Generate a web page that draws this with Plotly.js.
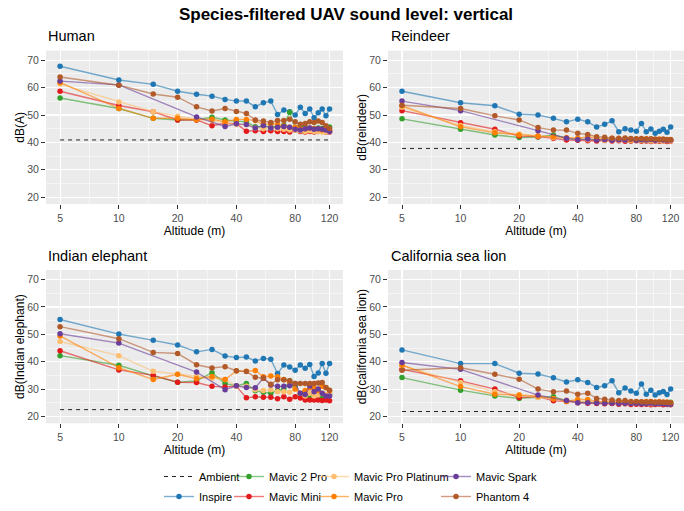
<!DOCTYPE html>
<html>
<head>
<meta charset="utf-8">
<script src="https://cdn.plot.ly/plotly-3.0.1.min.js"></script>
<style>html,body{margin:0;padding:0;background:#fff;}#chart{width:684px;height:511px;}</style>
</head>
<body>
<div id="chart"></div>
<script>
// ---------- data ----------
const altitudes = [5,10,15,20,25,30,35,40,45,50,55,60,65,70,75,80,85,90,95,100,105,110,115,120];
const altitudesSpark = [5,10,25,35,40,45,50,55,60,65,70,75,80,85,90,95,100,105,110,115,120];
const xTickVals = [5,10,20,40,80,120];
const xTickText = ['5','10','20','40','80','120'];
const yTickVals = [20,30,40,50,60,70];

const species = ['Human','Reindeer','Indian elephant','California sea lion'];
const yTitles = ['dB(A)','dB(reindeer)','dB(Indian elephant)','dB(california sea lion)'];
const ambient = [40.9, 37.8, 22.5, 21.8];

const drones = ['Inspire','Mavic 2 Pro','Mavic Mini','Mavic Pro Platinum','Mavic Pro','Mavic Spark','Phantom 4'];

// Human
const human_Inspire   = [67.8,62.8,61.2,58.7,57.6,56.9,55.7,55.1,55.1,53.0,54.5,55.1,50.2,51.8,51.2,50.0,52.8,50.6,52.2,49.0,50.8,52.2,49.7,52.2];
const human_Mavic2Pro = [56.2,52.4,48.8,48.2,48.3,49.2,48.2,47.8,47.5,45.7,45.7,45.7,45.7,46.3,51.0,45.1,46.0,45.7,45.1,45.1,45.3,45.1,45.4,45.6];
const human_MavicMini = [58.7,53.5,51.2,48.2,48.2,46.1,47.0,46.8,44.1,44.3,44.0,44.3,44.0,44.0,43.8,44.5,44.0,43.8,44.0,43.8,44.0,44.0,43.8,43.8];
const human_Platinum  = [61.3,54.8,51.2,49.6,48.5,48.0,47.3,46.5,46.5,45.3,45.0,45.3,45.0,44.8,44.5,44.5,44.3,44.0,44.3,44.0,44.0,43.8,43.8,44.0];
const human_MavicPro  = [61.9,52.4,48.8,48.8,48.3,48.5,47.5,48.4,48.4,48.0,46.5,46.8,46.5,46.0,45.5,45.5,45.0,45.0,45.3,45.0,45.0,44.5,44.7,44.5];
const human_Spark     = [62.4,61.0,49.3,45.8,46.8,46.5,45.3,46.2,45.3,45.5,45.8,45.5,44.8,44.5,45.0,45.3,44.8,45.0,44.8,44.5,44.0];
const human_Phantom4  = [63.9,60.9,57.7,56.5,53.0,51.5,52.4,51.3,50.6,48.2,47.8,47.3,48.0,48.0,48.5,47.5,46.6,46.9,47.5,47.3,47.8,47.3,46.1,45.1];

// Reindeer
const reindeer_Inspire   = [58.7,54.5,53.4,50.3,50.0,48.8,47.5,48.5,47.5,45.6,46.6,47.9,43.9,45.0,44.5,44.1,46.9,43.9,44.9,43.3,44.1,44.8,43.7,45.6];
const reindeer_Mavic2Pro = [48.6,44.8,42.7,41.8,42.0,42.7,41.5,41.2,41.0,41.0,40.8,41.0,40.8,40.9,40.6,40.8,40.5,40.7,40.6,40.8,40.6,40.7,40.6,40.8];
const reindeer_MavicMini = [51.6,47.2,44.8,42.3,42.1,41.5,40.9,40.8,40.6,40.5,40.7,40.5,40.6,40.4,40.5,40.6,40.4,40.5,40.3,40.5,40.4,40.5,40.3,40.4];
const reindeer_Platinum  = [52.8,46.2,43.9,43.1,42.3,41.8,41.5,41.3,41.0,41.2,40.8,41.0,40.8,40.9,40.7,40.8,40.6,40.7,40.5,40.7,40.6,40.5,40.6,40.5];
const reindeer_MavicPro  = [53.4,45.7,43.5,42.7,42.3,42.1,41.8,41.5,42.0,41.5,41.3,41.5,41.2,41.3,41.0,41.2,41.0,41.3,41.1,41.0,41.2,41.0,41.1,41.0];
const reindeer_Spark     = [55.1,51.6,44.3,41.5,41.0,41.2,40.9,41.1,40.8,41.0,40.9,41.2,40.8,41.0,40.9,41.1,40.8,41.0,40.9,40.8,40.9];
const reindeer_Phantom4  = [53.6,52.4,49.7,48.2,45.4,44.5,44.5,43.3,42.9,42.1,41.9,41.5,41.5,41.6,41.4,41.3,41.4,41.2,41.3,41.2,41.1,41.2,41.0,41.1];

// Indian elephant
const elephant_Inspire   = [55.4,50.1,47.8,46.1,43.6,44.5,42.1,41.5,41.7,40.3,41.2,40.9,35.7,38.8,38.1,36.9,38.8,37.6,39.0,34.6,35.9,39.3,35.8,39.3];
const elephant_Mavic2Pro = [42.2,38.7,34.8,32.5,33.0,36.0,32.0,31.2,32.0,29.4,28.8,28.5,29.5,30.0,33.0,31.0,28.0,29.0,27.0,27.5,28.0,27.0,27.5,28.0];
const elephant_MavicMini = [44.0,37.0,35.0,32.5,32.4,31.0,30.8,31.0,26.8,27.2,27.0,27.0,26.5,27.2,26.3,27.2,26.7,26.0,26.0,26.0,26.0,25.8,26.0,25.7];
const elephant_Platinum  = [47.4,42.2,36.5,35.4,34.6,34.0,33.5,31.0,31.0,29.8,29.5,29.8,29.0,29.0,28.8,30.0,28.5,27.5,28.5,27.5,28.0,28.5,28.0,28.5];
const elephant_MavicPro  = [49.4,37.8,33.5,35.4,33.8,34.6,33.5,36.6,36.5,36.8,34.5,34.8,34.5,33.5,32.5,30.0,28.5,29.5,30.5,30.5,29.5,31.0,30.5,29.5];
const elephant_Spark     = [50.2,46.8,36.2,29.8,31.2,30.6,30.5,34.0,31.5,31.0,31.0,31.2,32.0,28.5,28.0,31.2,29.0,30.0,28.5,27.5,27.5];
const elephant_Phantom4  = [52.8,48.4,43.4,43.0,38.9,37.7,38.2,36.7,36.4,34.3,34.0,31.8,33.4,33.4,33.0,32.0,32.0,32.0,32.0,32.0,32.2,32.4,30.6,29.6];

// California sea lion
const sealion_Inspire   = [44.3,39.3,39.3,35.8,35.5,34.1,32.6,33.4,32.4,30.6,31.2,33.0,28.7,30.4,29.3,28.5,31.9,28.1,29.6,27.8,28.7,29.1,28.0,30.0];
const sealion_Mavic2Pro = [34.2,29.6,27.5,26.6,27.0,27.2,25.8,25.5,25.2,25.0,25.1,24.9,25.0,25.1,24.9,25.0,24.9,25.0,25.1,24.9,25.0,25.1,25.0,25.2];
const sealion_MavicMini = [37.2,33.0,30.0,26.9,27.3,25.7,25.5,25.0,24.8,24.7,24.6,24.7,24.5,24.6,24.4,24.5,24.4,24.5,24.3,24.4,24.5,24.3,24.4,24.3];
const sealion_Platinum  = [38.5,32.4,29.0,27.8,26.9,26.5,26.0,25.5,25.3,25.2,25.0,25.1,24.9,25.0,24.8,24.9,24.7,24.8,24.6,24.7,24.6,24.7,24.5,24.5];
const sealion_MavicPro  = [38.8,30.9,28.1,27.8,27.5,26.5,25.5,26.2,26.2,25.5,25.4,25.5,25.3,25.4,25.3,25.4,25.3,25.5,25.5,25.3,25.4,25.2,25.3,25.0];
const sealion_Spark     = [39.7,37.2,27.8,25.8,25.0,25.0,24.9,24.8,24.9,24.7,24.8,24.7,24.8,24.6,24.7,24.8,24.6,24.7,24.6,24.5,24.5];
const sealion_Phantom4  = [36.9,37.8,35.4,33.6,30.0,29.0,29.3,28.1,28.5,26.6,26.3,26.0,25.8,25.8,25.5,25.5,25.4,25.3,25.4,25.2,25.3,25.2,25.1,25.0];

// ---------- assembly ----------
const seriesBySpecies = [
  [human_Inspire, human_Mavic2Pro, human_MavicMini, human_Platinum, human_MavicPro, human_Spark, human_Phantom4],
  [reindeer_Inspire, reindeer_Mavic2Pro, reindeer_MavicMini, reindeer_Platinum, reindeer_MavicPro, reindeer_Spark, reindeer_Phantom4],
  [elephant_Inspire, elephant_Mavic2Pro, elephant_MavicMini, elephant_Platinum, elephant_MavicPro, elephant_Spark, elephant_Phantom4],
  [sealion_Inspire, sealion_Mavic2Pro, sealion_MavicMini, sealion_Platinum, sealion_MavicPro, sealion_Spark, sealion_Phantom4]
];
const droneColors = ['#1F78B4','#33A02C','#E31A1C','#FDBF6F','#FF7F00','#6A3D9A','#B15928'];
const droneLegend = ['legend','legend2','legend2','legend3','legend3','legend4','legend4'];

function rgba(hex, a){
  const r=parseInt(hex.slice(1,3),16), g=parseInt(hex.slice(3,5),16), b=parseInt(hex.slice(5,7),16);
  return 'rgba('+r+','+g+','+b+','+a+')';
}

const FONT = 'Liberation Sans, Arial, sans-serif';
const W = 684, H = 511;
const px = v => v / W;
const py = v => 1 - v / H;

const traces = [];
species.forEach((sp, s) => {
  const ax = s === 0 ? '' : String(s + 1);
  traces.push({
    type:'scatter', mode:'lines', name:'Ambient',
    x:[altitudes[0], altitudes[altitudes.length-1]], y:[ambient[s], ambient[s]],
    xaxis:'x'+ax, yaxis:'y'+ax,
    line:{color:'#222', width:1, dash:'4px,4px'},
    legend:'legend', legendgroup:'Ambient', showlegend: s === 0, hoverinfo:'skip'
  });
  drones.forEach((d, i) => {
    const xs = d === 'Mavic Spark' ? altitudesSpark : altitudes;
    traces.push({
      type:'scatter', mode:'lines+markers', name:d,
      x: xs, y: seriesBySpecies[s][i],
      xaxis:'x'+ax, yaxis:'y'+ax,
      line:{color: rgba(droneColors[i], 0.6), width:1.4},
      marker:{color: droneColors[i], size:5.5},
      legend: droneLegend[i], legendgroup:d, showlegend: s === 0
    });
  });
});

const xDom = [[px(46), px(343)], [px(388), px(684)]];
const yDom = [[py(204), py(50.7)], [py(423.3), py(270)]];

function xAxis(dom, anchor){
  return {
    domain: dom, anchor: anchor, type:'log', range:[0.627, 2.148], automargin:false,
    tickmode:'array', tickvals:xTickVals, ticktext:xTickText,
    ticks:'outside', ticklen:4, tickwidth:1, tickcolor:'#333',
    tickfont:{family:FONT, size:10.5, color:'#4d4d4d'},
    showgrid:true, gridcolor:'#ffffff', gridwidth:1.1,
    minor:{tickvals:[7.071, 14.142, 28.284, 56.569, 97.98], showgrid:true, gridcolor:'#ffffff', gridwidth:0.5},
    zeroline:false, showline:false, fixedrange:true,
    title:{text:'Altitude (m)', font:{family:FONT, size:12, color:'#000'}, standoff:3}
  };
}
function yAxis(dom, anchor, title){
  return {
    domain: dom, anchor: anchor, range:[17.5, 73.5], automargin:false,
    tickmode:'array', tickvals:yTickVals,
    ticks:'outside', ticklen:4, tickwidth:1, tickcolor:'#333',
    tickfont:{family:FONT, size:10.5, color:'#4d4d4d'},
    showgrid:true, gridcolor:'#ffffff', gridwidth:1.1,
    minor:{tickvals:[25,35,45,55,65], showgrid:true, gridcolor:'#ffffff', gridwidth:0.5},
    zeroline:false, showline:false, fixedrange:true,
    title:{text:title, font:{family:FONT, size:12, color:'#000'}, standoff:0}
  };
}

const panelTitleAnn = species.map((sp, s) => ({
  text: sp, xref:'paper', yref:'paper',
  x: s % 2 === 0 ? px(46) : px(389), y: s < 2 ? py(36.5) : py(256),
  xanchor:'left', yanchor:'middle', showarrow:false,
  font:{family:FONT, size:14.5, color:'#000'}
}));

const legendBase = {
  orientation:'v', xref:'paper', yref:'paper', xanchor:'left', yanchor:'bottom',
  y: py(511), bgcolor:'rgba(0,0,0,0)', borderwidth:0,
  font:{family:FONT, size:11, color:'#000'}, traceorder:'grouped',
  itemwidth:30, tracegroupgap:1
};

const layout = {
  width:W, height:H,
  margin:{l:0, r:0, t:0, b:0},
  paper_bgcolor:'#ffffff', plot_bgcolor:'#ebebeb',
  font:{family:FONT},
  title:{text:'<b>Species-filtered UAV sound level: vertical</b>', x:px(346), xanchor:'center',
         y:py(14), yanchor:'middle', xref:'paper', yref:'paper', font:{family:FONT, size:17, color:'#000'}},
  xaxis: xAxis(xDom[0], 'y'),  yaxis: yAxis(yDom[0], 'x', yTitles[0]),
  xaxis2: xAxis(xDom[1], 'y2'), yaxis2: yAxis(yDom[0], 'x2', yTitles[1]),
  xaxis3: xAxis(xDom[0], 'y3'), yaxis3: yAxis(yDom[1], 'x3', yTitles[2]),
  xaxis4: xAxis(xDom[1], 'y4'), yaxis4: yAxis(yDom[1], 'x4', yTitles[3]),
  annotations: panelTitleAnn,
  showlegend:true,
  legend:  Object.assign({}, legendBase, {x: px(159)}),
  legend2: Object.assign({}, legendBase, {x: px(229)}),
  legend3: Object.assign({}, legendBase, {x: px(314)}),
  legend4: Object.assign({}, legendBase, {x: px(436)})
};

Plotly.newPlot('chart', traces, layout, {displayModeBar:false, staticPlot:true});
</script>
</body>
</html>
